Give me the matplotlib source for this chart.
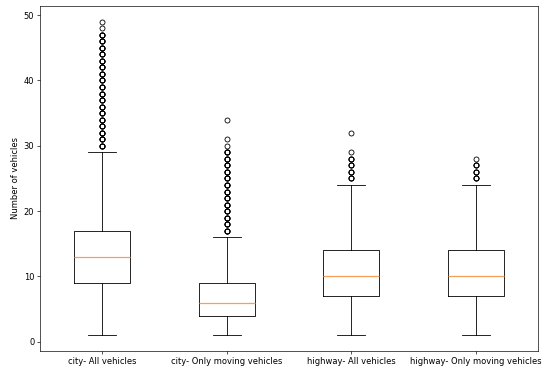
import matplotlib
matplotlib.use("Agg")
import matplotlib.pyplot as plt

labels = ["city- All vehicles", "city- Only moving vehicles",
          "highway- All vehicles", "highway- Only moving vehicles"]
q1 = [9, 4, 7, 7]
med = [13, 6, 10, 10]
q3 = [17, 9, 14, 14]
whislo = [1, 1, 1, 1]
whishi = [29, 16, 24, 24]
# outliers (repeated values drawn on top of each other)
fliers = [
    list(range(30, 48)) * 4 + [48, 49],
    list(range(17, 30)) * 4 + [30, 31, 34],
    [25, 26, 27, 28] * 3 + [29, 32],
    [25, 26, 27] * 3 + [28],
]

stats = []
for i in range(len(labels)):
    stats.append(dict(label=labels[i], q1=q1[i], med=med[i], q3=q3[i],
                      whislo=whislo[i], whishi=whishi[i], fliers=fliers[i]))

fig = plt.figure(figsize=(543 / 60, 371 / 60), dpi=60)
ax = fig.add_subplot(111)
ax.bxp(stats, medianprops=dict(color="#f5a05a", linewidth=1.5))
ax.set_ylabel("Number of vehicles")
fig.subplots_adjust(left=0.074, right=0.991, top=0.984, bottom=0.054)
fig.savefig("out.png", dpi=60)
